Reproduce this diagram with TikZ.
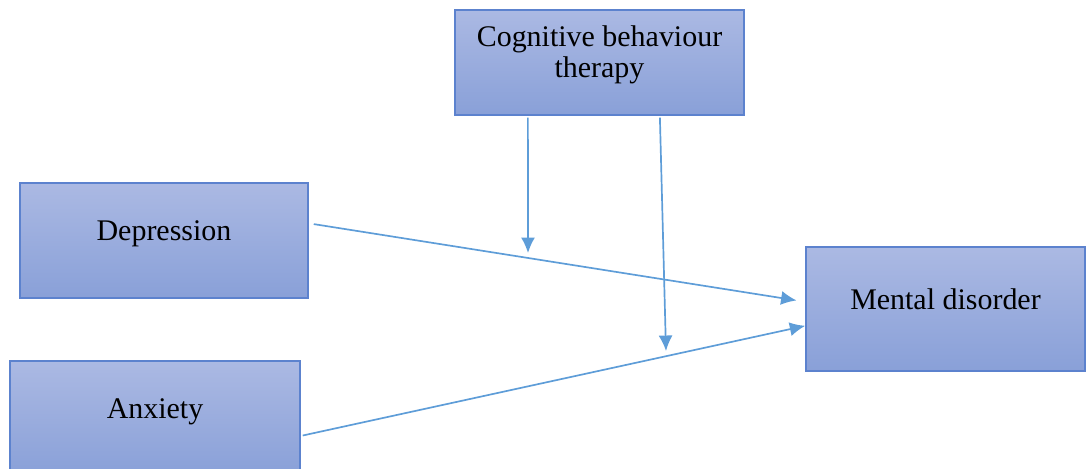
\documentclass[tikz,border=0pt]{standalone}
\usepackage{fontspec}
\setmainfont{Liberation Serif}
\usetikzlibrary{arrows.meta}
\tikzset{>={Latex[length=11pt,width=10pt]}}
\definecolor{boxtop}{RGB}{171,185,227}
\definecolor{boxbot}{RGB}{137,160,216}
\definecolor{boxline}{RGB}{92,130,206}
\definecolor{arr}{RGB}{94,157,216}
\tikzset{var/.style={draw=boxline, line width=1pt, top color=boxtop, bottom color=boxbot,
  font=\fontsize{21.3}{22.5}\selectfont, align=center, inner sep=0pt,
  text height=0.8em, text depth=0.8em}}
\tikzset{link/.style={arr, line width=1.2pt, ->}}

\begin{document}
\begin{tikzpicture}[x=0.025cm, y=-0.025cm]
    \clip (0,0) rectangle (1086,468);
    \useasboundingbox (0,0) rectangle (1086,468);
    % boxes
    \node[var, minimum width=7.225cm, minimum height=2.625cm, text height=22pt, text depth=0pt]
        (cbt) at (599.5,62.5) {Cognitive behaviour\\therapy};
    \node[var, minimum width=7.2cm, minimum height=2.875cm] (dep) at (164,240.5) {Depression};
    \node[var, minimum width=7.25cm, minimum height=2.875cm] (anx) at (155,418.5) {Anxiety};
    \node[var, minimum width=6.975cm, minimum height=3.1cm] (ment) at (945.5,309) {Mental disorder};
    % moderator ends
    \coordinate (m1) at (528,253);
    \coordinate (m2) at (666,351);
    % arrows
    \draw[link] ([xshift=0.125cm, yshift=0.41cm]dep.east) -- ([yshift=0.18cm]ment.west)
        [shorten >=0.22cm];
    \draw[link] ([xshift=0.05cm, yshift=-0.425cm]anx.east) -- ([yshift=-0.42cm]ment.west);
    \draw[link] ([xshift=-1.79cm, yshift=-0.05cm]cbt.south) -- (m1);
    \draw[link] ([xshift=1.51cm, yshift=-0.05cm]cbt.south) -- (m2);
\end{tikzpicture}
\end{document}
